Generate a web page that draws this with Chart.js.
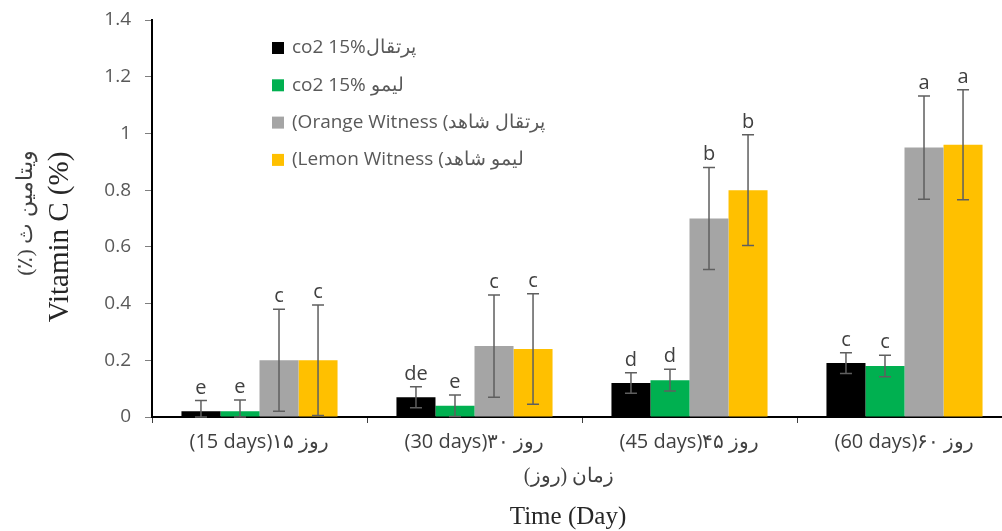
<!DOCTYPE html>
<html>
<head>
<meta charset="utf-8">
<script src="https://cdn.jsdelivr.net/npm/chart.js@4.4.0/dist/chart.umd.min.js"></script>
<style>
  html, body { margin: 0; padding: 0; background: #fff; overflow: hidden; }
  #wrap { width: 1002px; height: 531px; overflow: hidden; }
  canvas { display: block; }
</style>
</head>
<body>
<div id="wrap"><canvas id="c" width="1012" height="531"></canvas></div>
<script>
// Storage periods (x categories)
const categories = ['(15 days)۱۵ روز', '(30 days)۳۰ روز', '(45 days)۴۵ روز', '(60 days)۶۰ روز'];

// Series names (legend)
const seriesNames = [
  'co2 15%پرتقال',
  'co2 15% لیمو',
  '(Orange Witness (پرتقال شاهد',
  '(Lemon Witness (لیمو شاهد'
];

// Vitamin C (%) means
const orangeCo2     = [0.02, 0.07, 0.12, 0.19];
const lemonCo2      = [0.02, 0.04, 0.13, 0.18];
const orangeWitness = [0.20, 0.25, 0.70, 0.95];
const lemonWitness  = [0.20, 0.24, 0.80, 0.96];

// Standard errors
const orangeCo2Err     = [0.038, 0.037, 0.036, 0.037];
const lemonCo2Err      = [0.040, 0.038, 0.038, 0.038];
const orangeWitnessErr = [0.180, 0.180, 0.180, 0.182];
const lemonWitnessErr  = [0.195, 0.195, 0.195, 0.194];

// Significance letters
const orangeCo2Sig     = ['e', 'de', 'd', 'c'];
const lemonCo2Sig      = ['e', 'e', 'd', 'c'];
const orangeWitnessSig = ['c', 'c', 'b', 'a'];
const lemonWitnessSig  = ['c', 'c', 'b', 'a'];

// Y tick labels
const yTickLabels = ['0', '0.2', '0.4', '0.6', '0.8', '1', '1.2', '1.4'];

const colors = ['#000000', '#00B050', '#A5A5A5', '#FFC000'];
const values = [orangeCo2, lemonCo2, orangeWitness, lemonWitness];
const errors = [orangeCo2Err, lemonCo2Err, orangeWitnessErr, lemonWitnessErr];
const sigs   = [orangeCo2Sig, lemonCo2Sig, orangeWitnessSig, lemonWitnessSig];

const datasets = values.map((v, i) => ({
  label: seriesNames[i],
  data: v,
  backgroundColor: colors[i],
  borderWidth: 0,
  errors: errors[i],
  sig: sigs[i]
}));

// Error bars with caps, plus letter above each bar
const errorBarPlugin = {
  id: 'errorBars',
  afterDatasetsDraw(chart) {
    const ctx = chart.ctx;
    const y = chart.scales.y;
    ctx.save();
    chart.data.datasets.forEach((ds, di) => {
      const meta = chart.getDatasetMeta(di);
      meta.data.forEach((bar, i) => {
        const v = ds.data[i], e = ds.errors[i];
        const yTop = y.getPixelForValue(v + e);
        const yBot = y.getPixelForValue(Math.max(v - e, 0));
        const x = bar.x;
        ctx.strokeStyle = '#5f5f5f';
        ctx.lineWidth = 1.5;
        ctx.beginPath();
        ctx.moveTo(x, yTop); ctx.lineTo(x, yBot);
        ctx.moveTo(x - 6, yTop); ctx.lineTo(x + 6, yTop);
        ctx.moveTo(x - 6, yBot); ctx.lineTo(x + 6, yBot);
        ctx.stroke();
        ctx.fillStyle = '#404040';
        ctx.font = '20px "Open Sans"';
        ctx.textAlign = 'center';
        ctx.textBaseline = 'alphabetic';
        ctx.fillText(ds.sig[i], x, yTop - 7);
      });
    });
    ctx.restore();
  }
};

// Legend placed inside the plot area
const legendPlugin = {
  id: 'innerLegend',
  afterDraw(chart) {
    const ctx = chart.ctx;
    ctx.save();
    ctx.font = '19px "Open Sans"';
    ctx.textBaseline = 'middle';
    ctx.textAlign = 'left';
    chart.data.datasets.forEach((ds, i) => {
      const cy = 48 + i * 37.3;
      ctx.fillStyle = ds.backgroundColor;
      ctx.fillRect(272, cy - 6, 12, 12);
      ctx.fillStyle = '#595959';
      ctx.fillText(ds.label, 292, cy);
    });
    ctx.restore();
  }
};

// Bilingual axis titles
const titlePlugin = {
  id: 'axisTitles',
  afterDraw(chart) {
    const ctx = chart.ctx;
    ctx.save();
    ctx.textAlign = 'center';
    ctx.textBaseline = 'middle';

    ctx.fillStyle = '#404040';
    ctx.direction = 'rtl';
    ctx.font = '20px "Liberation Serif"';
    ctx.fillText('زمان (روز)', 569, 477);
    ctx.direction = 'ltr';
    ctx.fillStyle = '#262626';
    ctx.font = '25px "Liberation Serif"';
    ctx.fillText('Time (Day)', 568, 517);

    ctx.translate(60, 237);
    ctx.rotate(-Math.PI / 2);
    ctx.font = '29px "Liberation Serif"';
    ctx.fillText('Vitamin C (%)', 0, 0);
    ctx.restore();

    ctx.save();
    ctx.translate(26, 213);
    ctx.rotate(-Math.PI / 2);
    ctx.textAlign = 'center';
    ctx.textBaseline = 'middle';
    ctx.direction = 'rtl';
    ctx.fillStyle = '#404040';
    ctx.font = '22px "Liberation Serif"';
    ctx.fillText('ویتامین ث (٪)', 0, 0);
    ctx.restore();
  }
};

new Chart(document.getElementById('c'), {
  type: 'bar',
  data: { labels: categories, datasets },
  options: {
    responsive: false,
    animation: false,
    layout: { padding: { top: 20, right: 0, bottom: 0, left: 0 } },
    datasets: { bar: { categoryPercentage: 0.726, barPercentage: 1.0 } },
    plugins: { legend: { display: false }, tooltip: { enabled: false } },
    scales: {
      x: {
        afterFit(s) { s.height = 114; },
        grid: { drawOnChartArea: false, tickLength: 6, color: '#404040', lineWidth: 1, offset: true },
        border: { color: '#000', width: 2 },
        ticks: { color: '#404040', font: { family: 'Open Sans', size: 20 }, padding: 7, maxRotation: 0 }
      },
      y: {
        min: 0, max: 1.4,
        afterFit(s) { s.width = 152; s.paddingTop = 0; s.paddingBottom = 0; },
        grid: { drawOnChartArea: false, tickLength: 7, color: '#7f7f7f', lineWidth: 1 },
        border: { color: '#000', width: 2 },
        ticks: {
          stepSize: 0.2,
          color: '#595959',
          font: { family: 'Open Sans', size: 19 },
          padding: 14,
          callback: (v, i) => yTickLabels[i]
        }
      }
    }
  },
  plugins: [errorBarPlugin, legendPlugin, titlePlugin]
});
</script>
</body>
</html>
